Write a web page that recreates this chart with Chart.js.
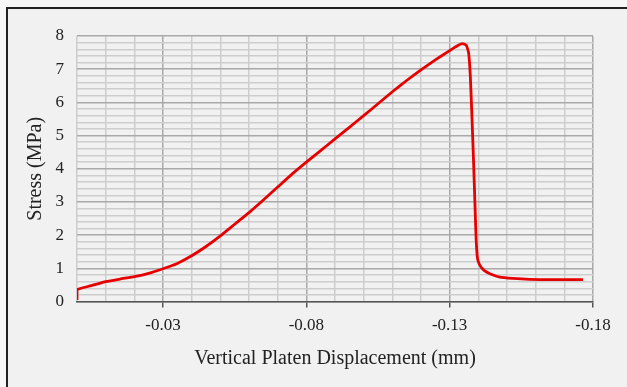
<!DOCTYPE html>
<html>
<head>
<meta charset="utf-8">
<script src="https://cdn.jsdelivr.net/npm/chart.js@4/dist/chart.umd.min.js"></script>
<style>
  html, body { margin: 0; padding: 0; background: #f7f7f7; }
  #frame {
    position: absolute; left: 6px; top: 7px; width: 640px; height: 400px;
    background: #f1f1f1; border-left: 2px solid #222; border-top: 2px solid #222;
  }
  #wrap { position: absolute; left: 0; top: 0; width: 627px; height: 387px; }
</style>
</head>
<body>
<div id="frame"></div>
<div id="wrap"><canvas id="chart" width="627" height="387"></canvas></div>
<script>
// Displacement (mm) and stress (MPa)
const displacement = [
  0, 0, -0.0005, -0.005, -0.01, -0.015, -0.02, -0.025, -0.03, -0.035,
  -0.04, -0.045, -0.05, -0.055, -0.06, -0.065, -0.07, -0.075, -0.08, -0.085,
  -0.09, -0.095, -0.10, -0.105, -0.11, -0.115, -0.12, -0.125, -0.13, -0.133,
  -0.1345, -0.1358, -0.1366, -0.1372, -0.1378, -0.1383, -0.1388, -0.1392, -0.1397, -0.1405,
  -0.142, -0.144, -0.1475, -0.152, -0.158, -0.165, -0.1765
];
const stress = [
  0.05, 0.35, 0.38, 0.48, 0.6, 0.68, 0.75, 0.85, 0.99, 1.15,
  1.38, 1.66, 1.98, 2.33, 2.68, 3.06, 3.45, 3.84, 4.2, 4.55,
  4.9, 5.25, 5.6, 5.96, 6.32, 6.66, 6.98, 7.28, 7.56, 7.72,
  7.77, 7.72, 7.5, 6.8, 5.5, 4.3, 3.0, 1.95, 1.3, 1.1,
  0.94, 0.84, 0.74, 0.7, 0.67, 0.66, 0.66
];
const majorTicks = [-0.03, -0.08, -0.13, -0.18];

const points = displacement.map((x, i) => ({ x: x, y: stress[i] }));
const isMajorX = v => majorTicks.some(m => Math.abs(m - v) < 1e-6);
const isMajorY = v => Math.abs(v - Math.round(v)) < 1e-6;

const serif = "'Liberation Serif', 'Times New Roman', serif";

new Chart(document.getElementById("chart"), {
  type: "scatter",
  data: {
    datasets: [{
      data: points,
      showLine: true,
      borderColor: "#e60000",
      borderWidth: 2.8,
      pointRadius: 0,
      tension: 0.15
    }]
  },
  options: {
    responsive: false,
    animation: false,
    layout: { padding: { left: 14, right: 34, top: 36, bottom: 12 } },
    plugins: { legend: { display: false }, tooltip: { enabled: false } },
    scales: {
      x: {
        type: "linear",
        min: -0.18,
        max: 0,
        reverse: true,
        afterBuildTicks: scale => {
          const t = [];
          for (let k = 0; k <= 18; k++) t.push({ value: -k / 100 });
          scale.ticks = t;
        },
        afterFit: scale => { scale.paddingRight = 0; scale.paddingLeft = 0; },
        ticks: {
          autoSkip: false,
          maxRotation: 0,
          padding: 8,
          color: "#222",
          font: { family: serif, size: 17 },
          callback: v => isMajorX(v) ? v.toFixed(2) : ""
        },
        grid: {
          color: c => isMajorX(c.tick.value) ? "#a9a9a9" : "#cdcdcd",
          lineWidth: 1.5,
          tickLength: 6,
          tickColor: c => isMajorX(c.tick.value) ? "#555" : "rgba(0,0,0,0)",
          tickWidth: 1.5
        },
        border: { display: true, color: "#555", width: 1.5 },
        title: {
          display: true,
          text: "Vertical Platen Displacement (mm)",
          color: "#222",
          font: { family: serif, size: 20 },
          padding: { top: 3, bottom: 4 }
        }
      },
      y: {
        min: 0,
        max: 8,
        ticks: {
          stepSize: 0.2,
          autoSkip: false,
          padding: 13,
          color: "#222",
          font: { family: serif, size: 17 },
          callback: v => isMajorY(v) ? String(Math.round(v)) : ""
        },
        grid: {
          color: c => isMajorY(c.tick.value) ? "#a9a9a9" : "#cdcdcd",
          lineWidth: 1.5,
          drawTicks: false
        },
        border: { display: false },
        afterFit: scale => { scale.width = 63; },
        title: {
          display: true,
          text: "Stress (MPa)",
          color: "#222",
          font: { family: serif, size: 20 },
          padding: { top: 10, bottom: 0 }
        }
      }
    }
  }
});
</script>
</body>
</html>
